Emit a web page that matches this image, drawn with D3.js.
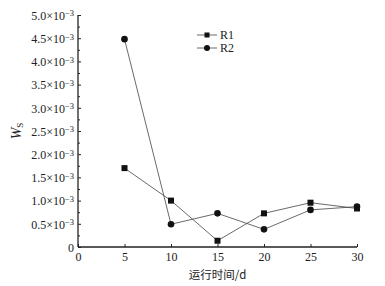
<!DOCTYPE html>
<html>
<head>
<meta charset="utf-8">
<script src="https://cdn.jsdelivr.net/npm/d3@7"></script>
<style>
  body { margin: 0; background: #fff; }
  svg { display: block; }
  svg text { font-family: "Liberation Serif", "DejaVu Serif", serif; }
  svg text.cjk { font-family: "Noto Sans CJK SC", sans-serif; }
</style>
</head>
<body>
<svg id="chart" width="385" height="286"></svg>
<script>
const days = [5, 10, 15, 20, 25, 30];
const r1 = [1.70e-3, 1.00e-3, 0.135e-3, 0.725e-3, 0.955e-3, 0.83e-3];
const r2 = [4.48e-3, 0.49e-3, 0.725e-3, 0.38e-3, 0.80e-3, 0.87e-3];
const yTicks = [0, 0.5, 1.0, 1.5, 2.0, 2.5, 3.0, 3.5, 4.0, 4.5, 5.0];
const xTicks = [0, 5, 10, 15, 20, 25, 30];

const svg = d3.select("#chart");
const margin = {left: 78, top: 15, right: 28, bottom: 39};
const width = 385, height = 286;

const x = d3.scaleLinear().domain([0, 30]).range([margin.left, width - margin.right]);
const y = d3.scaleLinear().domain([0, 5e-3]).range([height - margin.bottom, margin.top]);

// y axis: inward ticks, minor ticks between majors
const yAxis = d3.axisLeft(y)
    .tickValues(yTicks.map(d => d * 1e-3))
    .tickSize(-3)
    .tickPadding(5)
    .tickFormat(() => "");
const gy = svg.append("g")
    .attr("transform", `translate(${margin.left},0)`)
    .call(yAxis);
gy.select(".domain").attr("d", `M0,${y(0)}V${y(5e-3)}`);

svg.append("g")
    .attr("transform", `translate(${margin.left},0)`)
    .call(d3.axisLeft(y)
        .tickValues(d3.range(10).map(i => (i + 0.5) * 0.5e-3))
        .tickSize(-2)
        .tickFormat(""))
    .call(g => g.select(".domain").remove());

// y tick labels with superscripts
gy.selectAll(".tick").each(function(d) {
    const v = d * 1e3;
    const t = d3.select(this).select("text")
        .attr("x", -4)
        .attr("dy", "0.35em")
        .attr("font-size", 12)
        .attr("fill", "#222");
    if (v === 0) {
        t.text("0");
    } else {
        t.text(null);
        t.append("tspan").text(v.toFixed(1) + "×10");
        t.append("tspan").attr("dy", "-0.4em").attr("font-size", 8.5).text("−3");
    }
});

const xAxis = d3.axisBottom(x)
    .tickValues(xTicks)
    .tickSize(-3)
    .tickPadding(5)
    .tickFormat(d3.format("d"));
const gx = svg.append("g")
    .attr("transform", `translate(0,${y(0)})`)
    .call(xAxis);
gx.select(".domain").attr("d", `M${x(0)},0H${x(30)}`);
gx.selectAll("text").attr("font-size", 12).attr("fill", "#222").attr("dy", "0.75em");

svg.selectAll(".domain").attr("stroke", "#222").attr("stroke-width", 1.3);
svg.selectAll(".tick line").attr("stroke", "#222").attr("stroke-width", 1);

// series lines
const line = d3.line().x((d, i) => x(days[i])).y(d => y(d));
[r1, r2].forEach(s => {
    svg.append("path")
        .datum(s)
        .attr("d", line)
        .attr("fill", "none")
        .attr("stroke", "#444")
        .attr("stroke-width", 0.8);
});

// markers
svg.append("g").selectAll("rect")
    .data(r1)
    .join("rect")
    .attr("x", (d, i) => x(days[i]) - 3)
    .attr("y", d => y(d) - 3)
    .attr("width", 6)
    .attr("height", 6)
    .attr("fill", "#111");

svg.append("g").selectAll("circle")
    .data(r2)
    .join("circle")
    .attr("cx", (d, i) => x(days[i]))
    .attr("cy", d => y(d))
    .attr("r", 3.3)
    .attr("fill", "#111");

// legend
const legend = svg.append("g").attr("transform", "translate(197,35)");
[["R1", "rect"], ["R2", "circle"]].forEach(([name, shape], i) => {
    const g = legend.append("g").attr("transform", `translate(0,${i * 13})`);
    g.append("line").attr("x1", 0).attr("x2", 20).attr("stroke", "#444").attr("stroke-width", 0.8);
    if (shape === "rect") {
        g.append("rect").attr("x", 7.5).attr("y", -2.5).attr("width", 5).attr("height", 5).attr("fill", "#111");
    } else {
        g.append("circle").attr("cx", 10).attr("r", 3).attr("fill", "#111");
    }
    g.append("text").attr("x", 23).attr("dy", "0.35em").attr("font-size", 12).attr("fill", "#222").text(name);
});

// axis titles
const yl = svg.append("text")
    .attr("transform", `translate(21,${y(2.5e-3)}) rotate(-90)`)
    .attr("text-anchor", "middle")
    .attr("font-size", 14)
    .attr("fill", "#222");
yl.append("tspan").attr("font-style", "italic").text("W");
yl.append("tspan").attr("font-size", 9).attr("dy", "0.25em").text("S");

svg.append("text")
    .attr("class", "cjk")
    .attr("x", x(15))
    .attr("y", 279)
    .attr("text-anchor", "middle")
    .attr("font-size", 11.5)
    .attr("fill", "#222")
    .text("运行时间/d");
</script>
</body>
</html>
